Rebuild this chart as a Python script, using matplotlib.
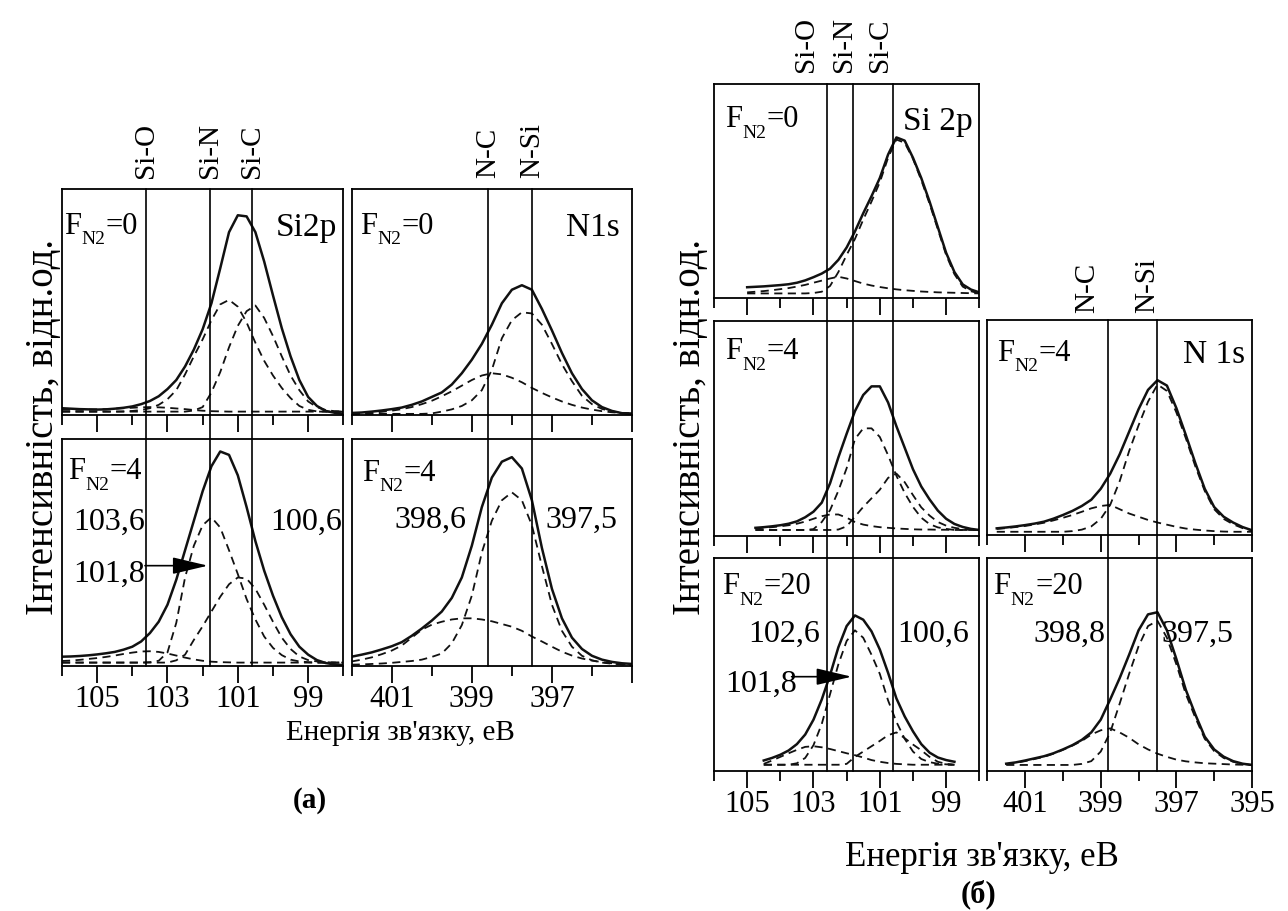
import matplotlib.pyplot as plt
import matplotlib.transforms as mtransforms

plt.rcParams['font.family'] = ['Liberation Serif', 'DejaVu Serif']

# Binding energy grids, eV
si_e = [106, 105.75, 105.5, 105.25, 105, 104.75, 104.5, 104.25, 104, 103.75, 103.5,
        103.25, 103, 102.75, 102.5, 102.25, 102, 101.75, 101.5, 101.25, 101, 100.75,
        100.5, 100.25, 100, 99.75, 99.5, 99.25, 99, 98.75, 98.5, 98.25, 98]
n_e = [402, 401.75, 401.5, 401.25, 401, 400.75, 400.5, 400.25, 400, 399.75, 399.5,
       399.25, 399, 398.75, 398.5, 398.25, 398, 397.75, 397.5, 397.25, 397, 396.75,
       396.5, 396.25, 396, 395.75, 395.5, 395.25, 395]

# (a) Si2p, F_N2=0
a1_total = [3.0, 2.8, 2.6, 2.5, 2.4, 2.5, 2.8, 3.2, 3.8, 4.8, 6.2, 8.3, 11.5, 15.5, 21.5, 29,
            38, 49.5, 65, 81, 88.5, 88, 81, 68, 53, 38.5, 26, 15.5, 8, 4, 1.8, 1, 0.6]
a1_sio = [2.3, 2.3, 2.3, 2.4, 2.5, 2.6, 2.8, 3.0, 3.2, 3.4, 3.5, 3.4, 3.2, 2.9, 2.6, 2.2, 1.9,
          1.7, 1.6, 1.5, 1.5, 1.5, 1.5, 1.5, 1.5, 1.5, 1.5, 1.5, 1.5, 1.5, 1.5, 1.5, 1.5]
a1_sin = [1.5, 1.5, 1.5, 1.5, 1.5, 1.5, 1.5, 1.6, 1.8, 2.2, 3, 4.5, 7, 11, 18, 26, 33.5, 42,
          49, 51, 48, 41, 32, 24, 17.5, 12, 7.5, 4, 2.3, 1.6, 1.5, 1.5, 1.5]
a1_sic = [1.5, 1.5, 1.5, 1.5, 1.5, 1.5, 1.5, 1.5, 1.5, 1.5, 1.5, 1.5, 1.5, 1.5, 1.5, 2, 3.5,
          10, 19, 30, 39.5, 46, 48.5, 43, 35, 26, 17.5, 11, 6, 3.5, 2.2, 1.7, 1.5]

# (a) Si2p, F_N2=4
a2_total = [4.1, 4.2, 4.4, 4.7, 5.1, 5.6, 6.2, 7.2, 8.5, 10.8, 14.5, 19.5, 27, 38, 51, 64, 77,
            88, 94.5, 93, 84, 70, 55, 42, 31, 21.5, 14, 8.5, 5, 2.6, 1.3, 0.7, 0.4]
a2_sio = [2.2, 2.4, 2.7, 3.1, 3.5, 4, 4.6, 5.3, 5.9, 6.4, 6.5, 6.2, 5.5, 4.6, 3.7, 2.9, 2.3,
          1.9, 1.7, 1.6, 1.5, 1.5, 1.5, 1.5, 1.5, 1.5, 1.5, 1.5, 1.5, 1.5, 1.5, 1.5, 1.5]
a2_sin = [1.5, 1.5, 1.5, 1.5, 1.5, 1.5, 1.5, 1.5, 1.5, 1.5, 1.7, 2.3, 6, 19, 39, 53, 62, 65.5,
          61, 51, 40.5, 29.5, 20.5, 13, 8, 4.8, 2.8, 2, 1.7, 1.5, 1.5, 1.5, 1.5]
a2_sic = [1.5, 1.5, 1.5, 1.5, 1.5, 1.5, 1.5, 1.5, 1.5, 1.5, 1.5, 1.5, 1.5, 2.5, 5, 11.5, 17.5,
          24, 30.5, 36, 39, 38.5, 34, 27, 19.5, 12.5, 7.5, 4.2, 2.6, 2, 1.7, 1.5, 1.5]

# (a) N1s, F_N2=0
a3_total = [0.9, 1.1, 1.5, 2.0, 2.6, 3.3, 4.5, 6, 8, 10, 13.5, 18.5, 24.5, 31.5, 40, 49.5,
            55.5, 57.5, 55.5, 47, 37.5, 27.5, 18.5, 11.5, 6.5, 3.5, 1.8, 0.8, 0.5]
a3_nc = [0.6, 0.8, 1.0, 1.4, 1.9, 2.6, 3.5, 4.8, 6.3, 8.3, 10.5, 13, 15.5, 17.5, 18.5, 18,
         16.5, 14.5, 12, 9.8, 7.8, 6, 4.5, 3.3, 2.4, 1.7, 1.2, 0.9, 0.7]
a3_nsi = [0.5, 0.5, 0.5, 0.5, 0.5, 0.5, 0.5, 0.5, 0.7, 1.5, 2.5, 4, 6.5, 11, 20, 34, 42,
          45.5, 45, 40, 31.5, 22.5, 15, 8.5, 4.8, 2.7, 1.6, 1, 0.7]

# (a) N1s, F_N2=4
a4_total = [4.1, 5, 6, 7.3, 8.7, 10.5, 13.3, 16.5, 20, 24, 30, 39, 53, 70, 83, 90, 92, 87,
            73, 52, 34, 21, 12.5, 7.5, 4.5, 2.8, 1.8, 1.2, 0.9]
a4_nc = [2, 2.8, 3.8, 5.2, 6.8, 9, 12.5, 16, 18.2, 19.5, 20.5, 21, 21, 20.5, 19.7, 18.5,
         17.3, 15.5, 13, 10.8, 8.5, 6.3, 4.6, 3.3, 2.4, 1.7, 1.2, 0.8, 0.5]
a4_nsi = [0.6, 0.7, 0.9, 1.1, 1.4, 1.8, 2.2, 2.8, 4, 5.5, 10, 18, 31, 50, 64, 73, 76.5, 73,
          62, 44, 27, 15.5, 8.5, 4.5, 2.5, 1.5, 1, 0.7, 0.5]

# (б) Si 2p, F_N2=0  (105 ... 98 eV)
b1_total = [4.9, 5.1, 5.3, 5.6, 5.9, 6.3, 7.0, 8.1, 9.6, 11.3, 13.6, 17.7, 23.5, 31, 39.5,
            47.5, 56, 67, 75, 73.5, 65.5, 56, 45, 33, 21, 12, 6.2, 3.8, 2.5]
b1_sio = [2.5, 2.8, 3.1, 3.5, 4, 4.5, 5.2, 6.0, 7, 8, 9, 9.8, 9, 7.8, 6.6, 5.7, 5, 4.4, 3.9,
          3.5, 3.2, 2.9, 2.7, 2.5, 2.4, 2.3, 2.2, 2.1, 2]
b1_sic = [2, 2, 2, 2, 2, 2, 2, 2, 2.2, 2.8, 5.5, 12, 20, 27.5, 36.5, 45, 54, 65.5, 74, 72.5,
          65, 55, 44, 32, 20, 11, 5.2, 3, 2]

# (б) Si 2p, F_N2=4  (104.75 ... 98 eV)
b2_total = [3.8, 4.1, 4.5, 5.0, 5.7, 6.8, 8.7, 11.3, 15.5, 24.5, 36.5, 47.5, 58, 65.5, 69.5,
            69.5, 62, 51, 41, 31, 23, 17, 11.8, 8, 5.6, 4.2, 3.3, 2.8]
b2_sio = [3.5, 3.8, 4.1, 4.5, 5, 5.7, 6.7, 8, 9.2, 10, 10, 8.5, 6.5, 5.3, 4.6, 4.1, 3.8, 3.5,
          3.3, 3.1, 3, 3, 2.9, 2.9, 2.8, 2.8, 2.8, 2.8]
b2_sin = [2.8, 2.8, 2.8, 2.8, 2.8, 2.8, 2.8, 3.2, 6.5, 12, 21, 31.5, 45, 50, 50, 46, 37.5, 28,
          20, 13.5, 8.5, 5.5, 4, 3.3, 2.8, 2.8, 2.8, 2.8]
b2_sic = [2.8, 2.8, 2.8, 2.8, 2.8, 2.8, 2.8, 2.8, 2.8, 2.8, 3, 4.5, 9, 13.5, 17.5, 21.5, 27,
          29, 25, 19, 13.3, 9.5, 6.5, 4.8, 3.8, 3.2, 3, 2.8]

# (б) Si 2p, F_N2=20  (104.5 ... 98.75 eV)
b3_total = [4.8, 6, 7.5, 9.5, 12.5, 17, 24, 33.5, 45, 58, 68, 73, 71, 65.5, 57, 46, 34, 25.5,
            18.5, 12.5, 8.5, 6.2, 5, 4.2]
b3_sio = [3.2, 4.8, 6.5, 8.2, 9.8, 11.2, 11.5, 11, 10.2, 9.2, 8.2, 7.3, 6.2, 5, 4.2, 3.6, 3.2,
          3, 2.8, 2.8, 2.8, 2.8, 2.8, 2.8]
b3_sin = [2.8, 2.8, 2.8, 2.8, 3.5, 6, 12, 22, 36, 50, 61, 66, 62.5, 54.5, 45.5, 33, 23, 15, 9,
          5.5, 4, 3.3, 3, 2.8]
b3_sic = [2.8, 2.8, 2.8, 2.8, 2.8, 2.8, 2.8, 2.8, 2.8, 2.8, 3.2, 6.5, 9, 11.5, 14, 16.7, 18,
          15.3, 12.3, 9.6, 6.5, 4.2, 3.2, 2.8]

# (б) N 1s, F_N2=4  (401.75 ... 395 eV)
b4_total = [3.1, 3.5, 4, 4.6, 5.3, 6.2, 7.6, 9.3, 11.2, 13.5, 16.4, 21.5, 28.5, 37.5, 48, 58.5,
            67.5, 72, 69.5, 59, 46.5, 33.5, 21.5, 13, 8.5, 5.8, 3.7, 2.2]
b4_nc = [2.8, 3.2, 3.7, 4.2, 4.9, 5.7, 6.8, 8, 9.3, 10.8, 12.4, 13.5, 14, 12, 10, 8.5, 7, 5.8,
         4.8, 3.8, 3, 2.5, 2.1, 1.8, 1.6, 1.5, 1.5, 1.5]
b4_nsi = [1.5, 1.5, 1.5, 1.5, 1.5, 1.5, 1.5, 1.5, 1.8, 2.5, 4, 7.5, 14, 25, 39, 51, 62, 70, 67,
          57, 45, 32, 20.5, 12, 7.5, 5, 3.2, 2.2]

# (б) N 1s, F_N2=20  (401.5 ... 395 eV)
b5_total = [3.3, 3.9, 4.8, 5.8, 6.8, 8.2, 10, 12, 14.5, 18, 24, 33.5, 43.5, 54.5, 66, 73.5,
            74.5, 66, 52.5, 38, 26.5, 16, 10, 6.6, 4.5, 3.3, 2.7]
b5_nc = [3.1, 3.7, 4.5, 5.5, 6.5, 8, 9.8, 11.8, 14, 17, 19, 19.9, 18, 15.5, 12.4, 10, 8, 6.5,
         5.2, 4.4, 3.9, 3.5, 3.3, 3.1, 2.9, 2.8, 2.7]
b5_nsi = [2.7, 2.7, 2.7, 2.7, 2.7, 2.7, 2.7, 2.7, 3.2, 4.5, 9, 18, 31.5, 45.5, 58.5, 68, 70.5,
          62.5, 50, 36, 25, 15, 9.2, 6, 4.2, 3.2, 2.7]

# reference line positions and names
a_si_lines = [103.6, 101.8, 100.6]
a_n_lines = [398.6, 397.5]
b_si_lines = [102.6, 101.8, 100.6]
b_n_lines = [398.8, 397.5]
si_names = ['Si-O', 'Si-N', 'Si-C']
n_names = ['N-C', 'N-Si']

W, H = 1288, 911
fig = plt.figure(figsize=(W / 100, H / 100), dpi=100)


def make_ax(box, kind, show_labels, tick_text=None):
    x0, y0, x1, y1 = box
    ax = fig.add_axes([x0 / W, 1 - y1 / H, (x1 - x0) / W, (y1 - y0) / H])
    if kind == 'si':
        ax.set_xlim(106, 98)
        major, minor = [105, 103, 101, 99], [106, 104, 102, 100, 98]
    else:
        ax.set_xlim(402, 395)
        major, minor = [401, 399, 397, 395], [402, 400, 398, 396]
    ax.set_ylim(0, 100)
    ax.set_yticks([])
    ax.set_xticks(major)
    ax.set_xticks(minor, minor=True)
    if tick_text is not None:
        ax.set_xticklabels(tick_text)
    ax.tick_params(axis='x', which='major', direction='out', length=12, width=1.3,
                   labelsize=22, pad=2, labelbottom=show_labels)
    ax.tick_params(axis='x', which='minor', direction='out', length=7, width=1.3)
    for s in ax.spines.values():
        s.set_linewidth(1.3)
    return ax


def draw(ax, x, total, comps):
    for c in comps:
        ax.plot(x, c, color='#111111', lw=1.3, dashes=(4.5, 3))
    ax.plot(x, total, color='#111111', lw=1.8, solid_joinstyle='round')


def vlines(ax, xs, ext=0.0):
    for x in xs:
        ax.axvline(x, ymin=-ext, ymax=1, color='k', lw=1.2, clip_on=False)


def fn2(ax, x, y, val):
    # F with subscript N2, built from three pieces
    kw = dict(xycoords='axes fraction', textcoords='offset points', va='baseline')
    ax.annotate('F', (x, y), xytext=(0, -15), fontsize=22, **kw)
    ax.annotate('N2', (x, y), xytext=(12.5, -22.5), fontsize=14, **kw)
    ax.annotate('=' + val, (x, y), xytext=(30, -15), fontsize=22, **kw)


def label(ax, x, y, s, ha='left', va='baseline', size=23):
    ax.text(x, y, s, transform=ax.transAxes, ha=ha, va=va, fontsize=size)


def top_names(ax, xs, names, y, ha='center'):
    tr = mtransforms.blended_transform_factory(ax.transData, ax.transAxes)
    for x, n in zip(xs, names):
        ax.text(x, y, n, rotation=90, ha=ha, va='bottom', transform=tr, fontsize=21)


def arrow(ax, x0, x1, y):
    ax.annotate('', xy=(x1, y), xytext=(x0, y),
                arrowprops=dict(arrowstyle='-|>,head_length=0.55,head_width=0.13',
                                color='k', lw=1.2, mutation_scale=40,
                                shrinkA=0, shrinkB=0))


# ---- panel (a) ----
a1 = make_ax((62, 189.3, 343.3, 415), 'si', False)
draw(a1, si_e, a1_total, [a1_sio, a1_sin, a1_sic])
vlines(a1, a_si_lines, ext=24 / 225.7)
top_names(a1, a_si_lines, si_names, 1.05)
fn2(a1, 0.007, 0.895, '0')
label(a1, 0.978, 0.895, 'Si2p', ha='right', va='top', size=24)

a2 = make_ax((62, 439, 343.3, 666), 'si', True)
draw(a2, si_e, a2_total, [a2_sio, a2_sin, a2_sic])
vlines(a2, a_si_lines)
fn2(a2, 0.022, 0.915, '4')
label(a2, 0.04, 0.602, '103,6')
label(a2, 0.997, 0.602, '100,6', ha='right')
label(a2, 0.04, 0.371, '101,8')
arrow(a2, 103.64, 101.85, 44.2)

a3 = make_ax((351.7, 189.3, 632, 415), 'n', False)
draw(a3, n_e, a3_total, [a3_nc, a3_nsi])
vlines(a3, a_n_lines, ext=24 / 225.7)
top_names(a3, a_n_lines, n_names, 1.05)
fn2(a3, 0.03, 0.895, '0')
label(a3, 0.957, 0.895, 'N1s', ha='right', va='top', size=24)

a4 = make_ax((351.7, 439, 632, 666), 'n', True, ['401', '399', '397', ''])
draw(a4, n_e, a4_total, [a4_nc, a4_nsi])
vlines(a4, a_n_lines)
fn2(a4, 0.036, 0.907, '4')
label(a4, 0.41, 0.607, '398,6', ha='right')
label(a4, 0.69, 0.607, '397,5')

fig.text(44 / W, 1 - 427 / H, 'Інтенсивність, відн.од.', rotation=90,
         ha='center', va='center', fontsize=28)
fig.text(400 / W, 1 - 733 / H, "Енергія зв'язку, еВ", ha='center', va='center', fontsize=21)
fig.text(310 / W, 1 - 800 / H, '(а)', ha='center', va='center', fontsize=21,
         fontweight='bold')

# ---- panel (б) ----
b1 = make_ax((714, 84, 979.3, 297.7), 'si', False)
draw(b1, si_e[4:], b1_total, [b1_sio, b1_sic])
vlines(b1, b_si_lines, ext=23 / 213.7)
top_names(b1, [103.23, 102.08, 100.99], si_names, 1.056)
fn2(b1, 0.041, 0.894, '0')
label(b1, 0.977, 0.894, 'Si 2p', ha='right', va='top', size=24)

b2 = make_ax((714, 320.7, 979.3, 536), 'si', False)
draw(b2, si_e[5:], b2_total, [b2_sio, b2_sin, b2_sic])
vlines(b2, b_si_lines, ext=22 / 215.3)
fn2(b2, 0.041, 0.918, '4')

b3 = make_ax((714, 558, 979.3, 770.7), 'si', True)
draw(b3, si_e[6:30], b3_total, [b3_sio, b3_sin, b3_sic])
vlines(b3, b_si_lines)
fn2(b3, 0.029, 0.928, '20')
label(b3, 0.129, 0.607, '102,6')
label(b3, 0.689, 0.607, '100,6')
label(b3, 0.041, 0.371, '101,8')
arrow(b3, 103.66, 101.85, 44.2)

b4 = make_ax((987.3, 320, 1252, 535), 'n', False)
draw(b4, n_e[1:], b4_total, [b4_nc, b4_nsi])
vlines(b4, b_n_lines, ext=23 / 215)
top_names(b4, [399.36, 397.78], n_names, 1.033)
fn2(b4, 0.035, 0.907, '4')
label(b4, 0.974, 0.907, 'N 1s', ha='right', va='top', size=24)

b5 = make_ax((987.3, 558, 1252, 770.7), 'n', True)
draw(b5, n_e[2:], b5_total, [b5_nc, b5_nsi])
vlines(b5, b_n_lines)
fn2(b5, 0.023, 0.928, '20')
label(b5, 0.174, 0.607, '398,8')
label(b5, 0.659, 0.607, '397,5')

fig.text(690 / W, 1 - 427 / H, 'Інтенсивність, відн.од.', rotation=90,
         ha='center', va='center', fontsize=28)
fig.text(982 / W, 1 - 858 / H, "Енергія зв'язку, еВ", ha='center', va='center', fontsize=25)
fig.text(978 / W, 1 - 894 / H, '(б)', ha='center', va='center', fontsize=22,
         fontweight='bold')

fig.savefig('out.png', dpi=100)
